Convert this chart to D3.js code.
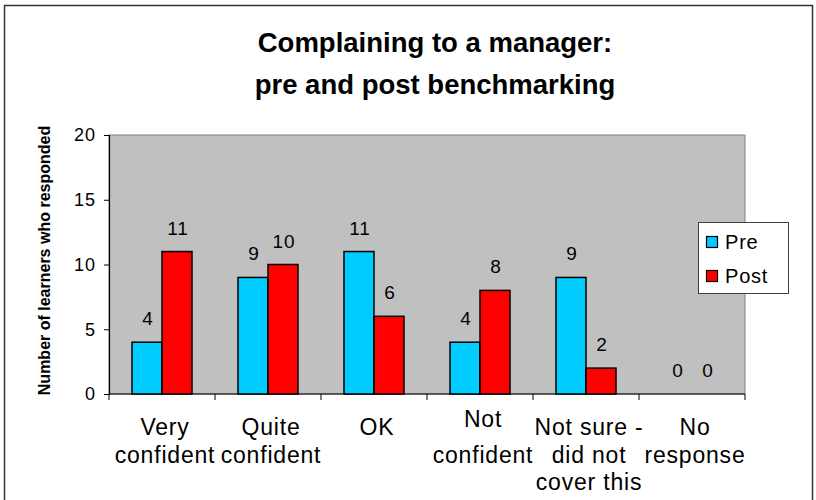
<!DOCTYPE html>
<html>
<head>
<meta charset="utf-8">
<script src="https://cdn.jsdelivr.net/npm/d3@7"></script>
<style>
  html, body { margin: 0; padding: 0; background: #fff; }
  svg { display: block; font-family: "Liberation Sans", Arial, sans-serif; }
</style>
</head>
<body>
<svg id="chart" width="816" height="500"></svg>
<script>
// Response categories, each split into its wrapped label lines
const categories = ["Very confident", "Quite confident", "OK", "Not confident", "Not sure - did not cover this", "No response"];
const categoryLines = [["Very", "confident"], ["Quite", "confident"], ["OK"], ["Not", "confident"], ["Not sure -", "did not", "cover this"], ["No", "response"]];
const seriesNames = ["Pre", "Post"];
const preValues = [4, 9, 11, 4, 9, 0];
const postValues = [11, 10, 6, 8, 2, 0];
const yTicks = [0, 5, 10, 15, 20];
const titleLines = ["Complaining to a manager:", "pre and post benchmarking"];
const yTitle = "Number of learners who responded";

const colors = { Pre: "#00ccff", Post: "#ff0000" };
const valuesBySeries = { Pre: preValues, Post: postValues };

const svg = d3.select("#chart");

// outer chart frame
svg.append("rect")
  .attr("x", 4.5).attr("y", 5.5)
  .attr("width", 808).attr("height", 500)
  .attr("fill", "#fff").attr("stroke", "#333").attr("stroke-width", 1.5);

const plot = { left: 109, top: 135, right: 745, bottom: 394 };

const x = d3.scaleBand().domain(categories).range([plot.left, plot.right]).padding(0);
const xs = d3.scaleBand().domain(seriesNames).range([0, x.bandwidth()]).paddingInner(0).paddingOuter(0.767);
const y = d3.scaleLinear().domain([0, 20]).range([plot.bottom, plot.top]);

// grey plot area
svg.append("rect")
  .attr("x", plot.left).attr("y", plot.top)
  .attr("width", plot.right - plot.left).attr("height", plot.bottom - plot.top)
  .attr("fill", "#c0c0c0").attr("stroke", "#808080").attr("stroke-width", 1);

// title
svg.append("g").selectAll("text").data(titleLines).join("text")
  .attr("x", 435).attr("y", (d, i) => 52 + i * 42)
  .attr("text-anchor", "middle")
  .attr("font-size", 27.5).attr("font-weight", "bold")
  .attr("fill", "#000")
  .text(d => d);

// y axis
const yAxis = svg.append("g")
  .attr("transform", `translate(${plot.left},0)`)
  .call(d3.axisLeft(y).tickValues(yTicks).tickSize(5).tickPadding(8));
yAxis.select(".domain").attr("stroke", "#000").attr("stroke-width", 1.2);
yAxis.selectAll(".tick line").attr("stroke", "#000");
yAxis.selectAll(".tick text")
  .attr("font-family", "Liberation Sans, Arial, sans-serif")
  .attr("font-size", 18).attr("letter-spacing", 1).attr("fill", "#000");

// y axis title
svg.append("text")
  .attr("transform", `translate(50,${(plot.top + plot.bottom) / 2 - 4}) rotate(-90)`)
  .attr("text-anchor", "middle")
  .attr("font-size", 16).attr("font-weight", "bold")
  .text(yTitle);

// x axis with ticks between categories
const xAxis = svg.append("g").attr("transform", `translate(0,${plot.bottom})`);
xAxis.append("line")
  .attr("x1", plot.left).attr("x2", plot.right)
  .attr("stroke", "#000").attr("stroke-width", 1.2);
const boundaries = categories.map(c => x(c)).concat([x(categories[categories.length - 1]) + x.bandwidth()]);
xAxis.selectAll(".tk").data(boundaries).join("line")
  .attr("class", "tk")
  .attr("x1", d => d).attr("x2", d => d)
  .attr("y1", 0).attr("y2", 6)
  .attr("stroke", "#000");

// category labels
const lineShift = { "Not confident": [-8, 0] };
const catG = svg.append("g").selectAll("text").data(categories).join("text")
  .attr("text-anchor", "middle")
  .attr("font-size", 23).attr("letter-spacing", 0.8)
  .attr("fill", "#000");
catG.each(function (c, i) {
  const t = d3.select(this);
  const cx = x(c) + x.bandwidth() / 2 + 3;
  categoryLines[i].forEach((ln, j) => {
    const shift = lineShift[c] ? lineShift[c][j] : 0;
    t.append("tspan").attr("x", cx).attr("y", 435 + j * 27.5 + shift).text(ln);
  });
});

// bars
const groups = svg.append("g").selectAll("g").data(seriesNames).join("g")
  .attr("fill", s => colors[s]);
groups.selectAll("rect")
  .data(s => categories.map((c, i) => ({ s, c, v: valuesBySeries[s][i] })))
  .join("rect")
  .attr("x", d => x(d.c) + xs(d.s))
  .attr("y", d => y(d.v))
  .attr("width", xs.bandwidth())
  .attr("height", d => y(0) - y(d.v))
  .attr("stroke", d => d.v > 0 ? "#000" : "none")
  .attr("stroke-width", 1.5);

// value labels
groups.selectAll("text")
  .data(s => categories.map((c, i) => ({ s, c, v: valuesBySeries[s][i] })))
  .join("text")
  .attr("x", d => x(d.c) + xs(d.s) + xs.bandwidth() / 2 + 1)
  .attr("y", d => y(d.v) - 17)
  .attr("text-anchor", "middle")
  .attr("font-size", 19).attr("letter-spacing", 1)
  .attr("fill", "#000")
  .text(d => d.v);

// legend
const legend = svg.append("g").attr("transform", "translate(698,222)");
legend.append("rect")
  .attr("x", 0.5).attr("y", 0.5).attr("width", 90).attr("height", 71)
  .attr("fill", "#fff").attr("stroke", "#404040").attr("stroke-width", 1);
const li = legend.selectAll("g").data(seriesNames).join("g")
  .attr("transform", (d, i) => `translate(0,${14 + i * 34})`);
li.append("rect")
  .attr("x", 8.5).attr("y", 0.5).attr("width", 11).attr("height", 11)
  .attr("fill", d => colors[d]).attr("stroke", "#000").attr("stroke-width", 1.2);
li.append("text")
  .attr("x", 27).attr("y", 13)
  .attr("font-size", 20).attr("letter-spacing", 0.8)
  .text(d => d);
</script>
</body>
</html>
